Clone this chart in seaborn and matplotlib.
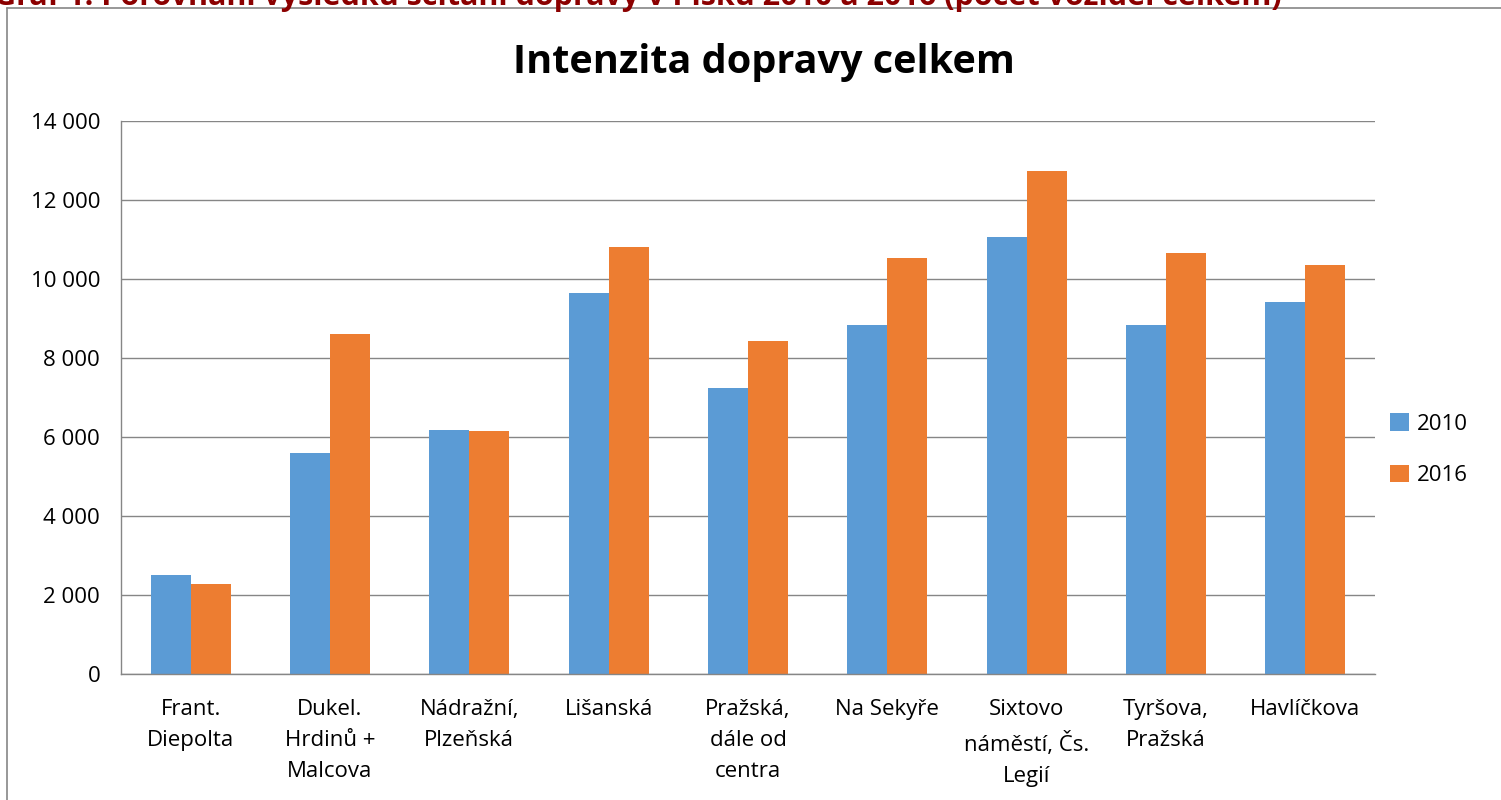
import numpy as np
import matplotlib
matplotlib.use("Agg")
import matplotlib.pyplot as plt
import pandas as pd
import seaborn as sns
from matplotlib.patches import Patch

# Intenzita dopravy celkem, 2010 vs 2016
places = ["Frant.\nDiepolta", "Dukel.\nHrdinů +\nMalcova", "Nádražní,\nPlzeňská",
          "Lišanská", "Pražská,\ndále od\ncentra", "Na Sekyře",
          "Sixtovo\nnáměstí, Čs.\nLegií", "Tyršova,\nPražská", "Havlíčkova"]
years = ["2010", "2016"]
vals_2010 = [2510, 5600, 6180, 9650, 7250, 8830, 11050, 8830, 9420]
vals_2016 = [2280, 8610, 6140, 10800, 8420, 10520, 12730, 10650, 10350]
yticks = [0, 2000, 4000, 6000, 8000, 10000, 12000, 14000]

df = pd.DataFrame({
    "misto": places * 2,
    "rok": [years[0]] * len(places) + [years[1]] * len(places),
    "pocet": vals_2010 + vals_2016,
})

sns.set_style("white")
plt.rcParams["font.family"] = ["Open Sans", "DejaVu Sans"]
plt.rcParams["text.color"] = "black"
plt.rcParams["xtick.color"] = "black"
plt.rcParams["ytick.color"] = "black"

colors = {"2010": "#5B9BD5", "2016": "#ED7D31"}
grid_col = "#868686"

fig = plt.figure(figsize=(15.01, 8.0), dpi=100)
ax = fig.add_axes([0.0806, 0.1575, 0.916 - 0.0806, 0.849 - 0.1575])

sns.barplot(data=df, x="misto", y="pocet", hue="rok", palette=colors,
            saturation=1, width=0.575, linewidth=0, ax=ax, legend=False)

ax.set_ylim(0, 14000)
ax.set_xlim(-0.5, len(places) - 0.5)
ax.set_yticks(yticks)
ax.set_yticklabels([f"{v:,}".replace(",", " ") for v in yticks], fontsize=16)
ax.set_xlabel("")
ax.set_ylabel("")

# category labels centred, tick marks on the category boundaries
ax.set_xticks(range(len(places)))
ax.set_xticklabels(places, fontsize=16, linespacing=1.62, va="top")
ax.set_xticks(np.arange(-0.5, len(places), 1.0), minor=True)
ax.tick_params(axis="x", which="major", length=0, pad=18, labelcolor="black")
ax.tick_params(axis="x", which="minor", length=9, width=1, color=grid_col, direction="out")
ax.tick_params(axis="y", length=7, width=1, color=grid_col, direction="out", pad=8,
               labelcolor="black")

ax.yaxis.grid(True, color=grid_col, linewidth=1)
ax.set_axisbelow(True)
for side in ["top", "right"]:
    ax.spines[side].set_visible(False)
for side in ["left", "bottom"]:
    ax.spines[side].set_color(grid_col)
    ax.spines[side].set_linewidth(1)

fig.text(0.509, 0.922, "Intenzita dopravy celkem", ha="center", va="center",
         fontsize=28.5, fontweight="bold", color="black")

handles = [Patch(facecolor=colors[y], edgecolor="none", label=y) for y in years]
fig.legend(handles=handles, loc="center left", bbox_to_anchor=(0.913, 0.438),
           frameon=False, fontsize=16, handlelength=0.85, handleheight=0.85,
           handletextpad=0.35, labelspacing=1.35, labelcolor="black")

# frame of the embedded chart and the cut-off caption above it
fig.add_artist(plt.Line2D([7 / 1501, 1], [1 - 8 / 800, 1 - 8 / 800], color=grid_col, lw=1.2))
fig.add_artist(plt.Line2D([7 / 1501, 7 / 1501], [0, 1 - 8 / 800], color=grid_col, lw=1.2))
fig.text(-0.004, 1 - 5 / 800, "Graf 1: Porovnání výsledků sčítání dopravy v Písku 2010 a 2016 (počet vozidel celkem)",
         ha="left", va="baseline", fontsize=22, fontweight="bold", color="#8B0000")

fig.savefig("out.png", dpi=100)
